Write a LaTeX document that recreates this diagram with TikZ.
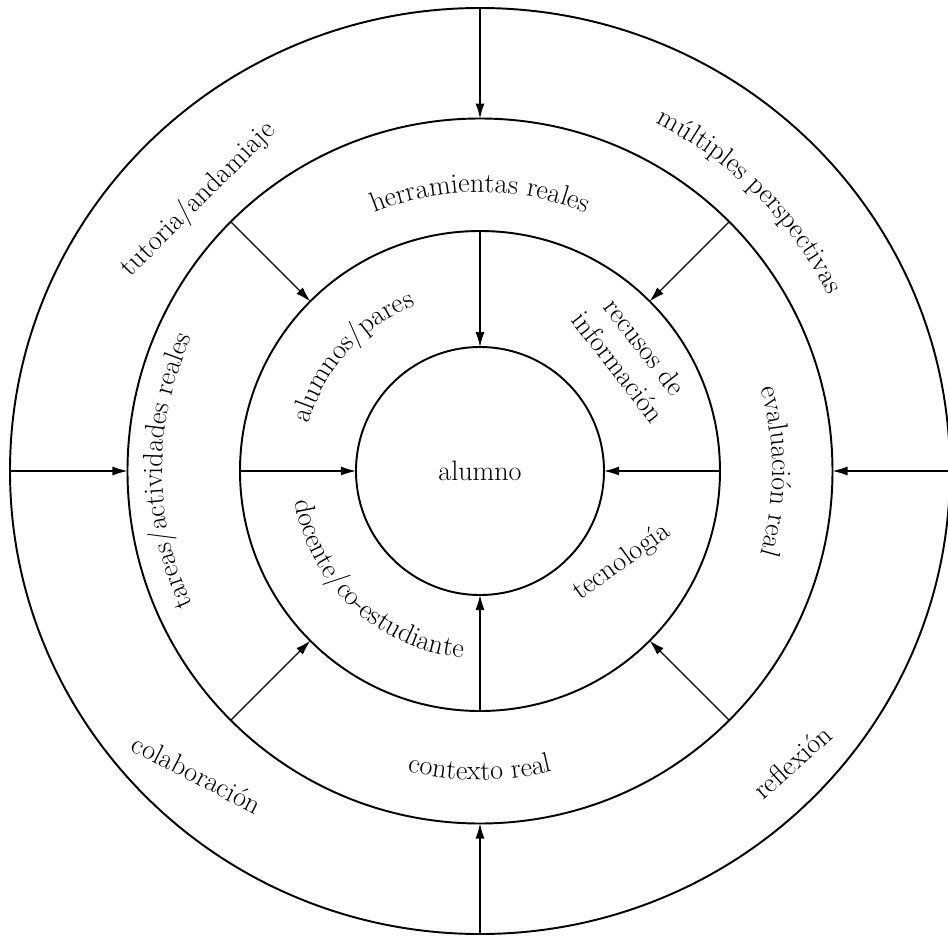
\documentclass[tikz,border=0pt]{standalone}
\usepackage{fontspec}
\usepackage{tikz}
\usetikzlibrary{shapes.geometric, arrows.meta, decorations.text}
\newcommand{\ringfont}{\fontsize{16}{19}\selectfont}

\begin{document}
\begin{tikzpicture}[
    ring/.style={circle, draw, line width=1.1pt, inner sep=0pt, outer sep=0pt},
    line/.style={draw, line width=0.7pt, -{Latex[length=0.3cm, width=0.18cm]}},
    flat/.style={font=\ringfont, inner sep=0pt, align=center},
    bent/.style={decorate, decoration={text along path, text align=center, text={|\ringfont|#1}}}
]
    \useasboundingbox (-9.6,-9.3) rectangle (9.36,9.42);

    % Nodes
    \node (outer) [ring, ellipse, minimum width=18.8cm, minimum height=18.52cm] at (0,0) {};
    \node (middle) [ring, minimum size=14.1cm] at (0,0) {};
    \node (inner) [ring, minimum size=9.6cm] at (0,0) {};
    \node (alumno) [ring, minimum size=4.96cm, font=\ringfont] at (0,0) {alumno};

    % Paths
    \path [line] (outer.north) -- (middle.north);
    \path [line] (outer.south) -- (middle.south);
    \path [line] (outer.west) -- (middle.west);
    \path [line] (outer.east) -- (middle.east);
    \path [line] (middle.45) -- (inner.45);
    \path [line] (middle.135) -- (inner.135);
    \path [line] (middle.225) -- (inner.225);
    \path [line] (middle.315) -- (inner.315);
    \path [line] (inner.north) -- (alumno.north);
    \path [line] (inner.south) -- (alumno.south);
    \path [line] (inner.west) -- (alumno.west);
    \path [line] (inner.east) -- (alumno.east);

    % Labels, outer ring
    \node (tutoria) [flat, rotate=45] at (136:7.82) {tutoria/andamiaje};
    \path [bent={múltiples perspectivas}] (90:7.8) arc[start angle=90, end angle=0, radius=7.8];
    \node (colaboracion) [flat, rotate=-27] at (-5.66,-6.06) {colaboración};
    \node (reflexion) [flat, rotate=42] at (6.24,-5.82) {reflexión};

    % Labels, middle ring
    \path [bent={herramientas reales}] (125:5.58) arc[start angle=125, end angle=55, radius=5.58];
    \path [bent={tareas/actividades reales}] (230:6.35) arc[start angle=230, end angle=130, radius=6.35];
    \path [bent={evaluación real}] (45:5.85) arc[start angle=45, end angle=-45, radius=5.85];
    \path [bent={contexto real}] (230:6.18) arc[start angle=230, end angle=310, radius=6.18];

    % Labels, inner ring
    \path [bent={alumnos/pares}] (180:3.55) arc[start angle=180, end angle=96, radius=3.55];
    \node (recursos) [flat, rotate=-52] at (37:3.8) {recusos de\\información};
    \path [bent={docente/co-estudiante}] (182:3.75) arc[start angle=182, end angle=272, radius=3.75];
    \node (tecnologia) [flat, rotate=36] at (2.84,-1.82) {tecnología};
\end{tikzpicture}
\end{document}
